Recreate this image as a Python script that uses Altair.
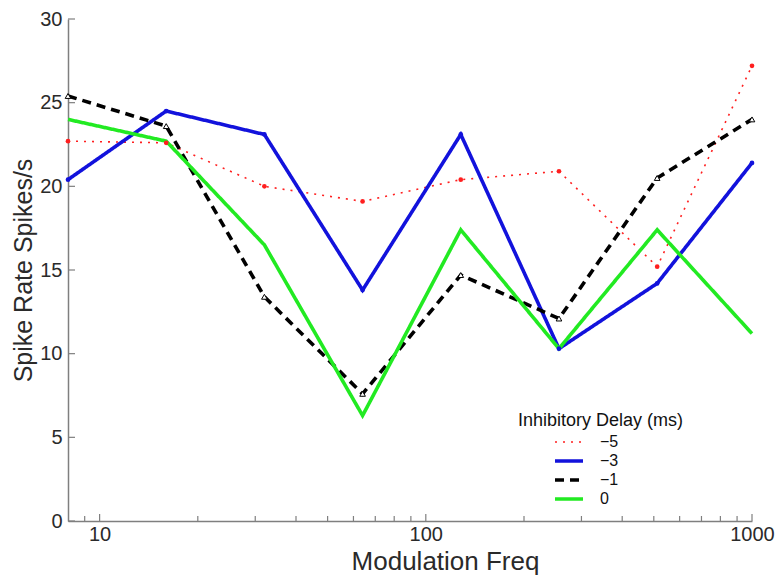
import altair as alt
import pandas as pd

# ---- data ----
freq = [8, 16, 32, 64, 128, 256, 512, 1000]
series = ["−5", "−3", "−1", "0"]
rate_m5 = [22.7, 22.6, 20.0, 19.1, 20.4, 20.9, 15.2, 27.2]
rate_m3 = [20.4, 24.5, 23.1, 13.8, 23.1, 10.3, 14.2, 21.4]
rate_m1 = [25.4, 23.6, 13.4, 7.6, 14.7, 12.1, 20.5, 24.0]
rate_0 = [24.0, 22.7, 16.5, 6.3, 17.4, 10.3, 17.4, 11.2]

y_ticks = [0, 5, 10, 15, 20, 25, 30]
x_major = [10, 100, 1000]
x_minor = [9, 20, 30, 40, 50, 60, 70, 80, 90, 200, 300, 400, 500, 600, 700, 800, 900]

rows = []
for s, vals in zip(series, [rate_m5, rate_m3, rate_m1, rate_0]):
    for f, v in zip(freq, vals):
        rows.append({"freq": f, "rate": v, "delay": s})
df = pd.DataFrame(rows)

W, H = 684, 502
FONT = "Liberation Sans"
AXIS_GRAY = "#7f7f7f"
TEXT = "#2a2a2a"

colors = ["#ff1f1f", "#1212dc", "#000000", "#22ea22"]
dashes = [[2, 6], [1, 0], [9, 6], [1, 0]]
widths = [1.6, 3.6, 3.6, 3.6]

xscale = alt.Scale(type="log", domain=[8, 1000], nice=False)
yscale = alt.Scale(domain=[0, 30], nice=False)

leg = alt.Legend(
    title="Inhibitory Delay (ms)",
    orient="none",
    legendX=450,
    legendY=393,
    titleFontSize=18,
    titleFontWeight="normal",
    titleColor="#111111",
    titleFont=FONT,
    titlePadding=4,
    labelFontSize=16,
    labelFont=FONT,
    labelColor="#111111",
    labelExpr="datum.value == '0' ? '\u00a0\u00a00' : datum.label",
    symbolType="M-2,0H2",
    symbolSize=196,
    symbolOffset=42,
    labelOffset=22,
    rowPadding=2,
)

x_axis = alt.Axis(
    values=x_major, format="d", title="Modulation Freq", ticks=False, grid=False,
    domainColor=AXIS_GRAY, domainWidth=1.5,
    labelFontSize=20, labelFont=FONT, labelColor=TEXT, labelPadding=3,
    titleFontSize=26, titleFont=FONT, titleFontWeight="normal", titleColor=TEXT,
    titleX=377, titleY=48, titleBaseline="alphabetic", titleAlign="center",
    labelFlush=False,
)
y_axis = alt.Axis(
    values=y_ticks, title="Spike Rate Spikes/s", ticks=False, grid=False,
    domainColor=AXIS_GRAY, domainWidth=1.5,
    labelFontSize=20, labelFont=FONT, labelColor=TEXT, labelPadding=6,
    titleFontSize=25, titleFont=FONT, titleFontWeight="normal", titleColor=TEXT,
    titlePadding=3, labelFlush=False,
)

base = alt.Chart(df)

lines = base.mark_line().encode(
    x=alt.X("freq:Q", scale=xscale, axis=x_axis),
    y=alt.Y("rate:Q", scale=yscale, axis=y_axis),
    color=alt.Color("delay:N", scale=alt.Scale(domain=series, range=colors), legend=leg),
    strokeDash=alt.StrokeDash("delay:N", scale=alt.Scale(domain=series, range=dashes), legend=leg),
    strokeWidth=alt.StrokeWidth("delay:N", scale=alt.Scale(type="ordinal", domain=series, range=widths), legend=leg),
    order=alt.Order("freq:Q"),
)

def pts(label, **mk):
    return base.transform_filter(alt.datum.delay == label).mark_point(**mk).encode(
        x=alt.X("freq:Q", scale=xscale),
        y=alt.Y("rate:Q", scale=yscale),
    )

p_m5 = pts("−5", shape="circle", filled=True, size=22, color=colors[0], opacity=1)
p_m3 = pts("−3", shape="circle", filled=True, size=22, color=colors[1], opacity=1)
p_m1 = pts("−1", shape="triangle-up", filled=True, fill="white", stroke="black",
           strokeWidth=1, size=32, opacity=1)

ytick = alt.Chart(pd.DataFrame({"rate": y_ticks})).mark_rule(color=AXIS_GRAY, strokeWidth=1.2).encode(
    y=alt.Y("rate:Q", scale=yscale), x=alt.value(0), x2=alt.value(7)
)
xmaj = alt.Chart(pd.DataFrame({"freq": x_major})).mark_rule(color=AXIS_GRAY, strokeWidth=1.2).encode(
    x=alt.X("freq:Q", scale=xscale), y=alt.value(H), y2=alt.value(H - 7)
)
xmin = alt.Chart(pd.DataFrame({"freq": x_minor})).mark_rule(color=AXIS_GRAY, strokeWidth=1.2).encode(
    x=alt.X("freq:Q", scale=xscale), y=alt.value(H), y2=alt.value(H - 5)
)

chart = alt.layer(lines, p_m5, p_m3, p_m1, ytick, xmaj, xmin).properties(
    width=W,
    height=H,
    padding={"left": 60, "top": 11, "right": 24, "bottom": 54},
    autosize=alt.AutoSizeParams(type="none"),
    background="white",
).configure_view(stroke=None)

chart.save("out.html", embed_options={"renderer": "svg", "actions": False})
